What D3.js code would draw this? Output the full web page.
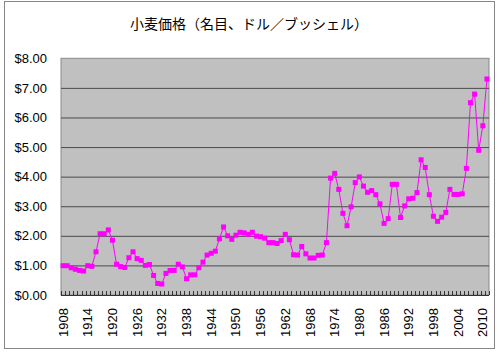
<!DOCTYPE html>
<html lang="ja">
<head>
  <meta charset="UTF-8">
  <title>小麦価格</title>
  <script src="https://d3js.org/d3.v7.min.js"></script>
  <style>
    body { margin: 0; background: #fff; }
    svg { display: block; }
    .tick-label { font-family: "Liberation Sans", Arial, sans-serif; font-size: 13px; fill: #000; }
    .title { font-family: "Noto Sans CJK JP", sans-serif; font-size: 14px; fill: #000; }
  </style>
</head>
<body>
  <svg id="chart" width="500" height="353"></svg>
  <script>
    // years 1908-2011, one price per year (nominal $/bushel)
    const years = d3.range(1908, 2012);
    const prices = [
      0.99, 0.99, 0.92, 0.87, 0.83, 0.81, 0.99, 0.97, 1.46, 2.07,   // 1908-1917
      2.07, 2.20, 1.85, 1.04, 0.96, 0.93, 1.26, 1.46, 1.23, 1.17,   // 1918-1927
      1.00, 1.03, 0.66, 0.39, 0.37, 0.73, 0.83, 0.83, 1.04, 0.95,   // 1928-1937
      0.55, 0.68, 0.68, 0.92, 1.11, 1.35, 1.41, 1.48, 1.90, 2.30,   // 1938-1947
      2.00, 1.88, 2.02, 2.12, 2.10, 2.05, 2.12, 1.99, 1.97, 1.92,   // 1948-1957
      1.77, 1.77, 1.74, 1.84, 2.05, 1.87, 1.36, 1.35, 1.64, 1.39,   // 1958-1967
      1.25, 1.25, 1.34, 1.35, 1.77, 3.95, 4.11, 3.57, 2.76, 2.34,   // 1968-1977
      2.98, 3.80, 3.99, 3.68, 3.47, 3.53, 3.39, 3.08, 2.42, 2.58,   // 1978-1987
      3.74, 3.74, 2.62, 3.01, 3.25, 3.27, 3.46, 4.57, 4.31, 3.39,   // 1988-1997
      2.66, 2.49, 2.63, 2.79, 3.57, 3.40, 3.40, 3.42, 4.28, 6.50,   // 1998-2007
      6.79, 4.89, 5.72, 7.30                                        // 2008-2011
    ];
    const labelYears = years.filter((d, i) => i % 6 === 0);
    const yTicks = d3.range(0, 9);
    const title = "小麦価格（名目、ドル／ブッシェル）";

    const data = years.map((y, i) => ({ year: y, price: prices[i] }));

    const plot = { left: 61, right: 489, top: 58.3, bottom: 295 };
    const svg = d3.select("#chart");

    // chart border
    svg.append("rect")
      .attr("x", 4.5).attr("y", 1.5)
      .attr("width", 490).attr("height", 347)
      .attr("fill", "#fff")
      .attr("stroke", "#868686");

    svg.append("text")
      .attr("class", "title")
      .attr("x", 249).attr("y", 29)
      .attr("text-anchor", "middle")
      .text(title);

    const x = d3.scaleBand()
      .domain(years)
      .range([plot.left, plot.right])
      .paddingInner(0).paddingOuter(0);

    const y = d3.scaleLinear()
      .domain([0, 8])
      .range([plot.bottom, plot.top]);

    // plot area
    svg.append("rect")
      .attr("x", plot.left).attr("y", plot.top)
      .attr("width", plot.right - plot.left)
      .attr("height", plot.bottom - plot.top)
      .attr("fill", "#c0c0c0")
      .attr("stroke", "#8a8a8a");

    // gridlines + y labels
    const yAxis = svg.append("g")
      .attr("transform", `translate(${plot.left},0)`)
      .call(d3.axisLeft(y)
        .tickValues(yTicks)
        .tickSize(-(plot.right - plot.left))
        .tickPadding(14)
        .tickFormat(d => "$" + d3.format(".2f")(d)));
    yAxis.select(".domain").remove();
    yAxis.selectAll(".tick line")
      .attr("stroke", d => d === 0 || d === 8 ? "none" : "#4a4a4a");
    yAxis.selectAll(".tick text")
      .attr("class", "tick-label")
      .attr("font-family", null).attr("font-size", null);

    // x axis line
    svg.append("line")
      .attr("x1", plot.left).attr("x2", plot.right)
      .attr("y1", plot.bottom + 0.5).attr("y2", plot.bottom + 0.5)
      .attr("stroke", "#333");

    // inside tick marks at category boundaries
    svg.append("g").selectAll("line")
      .data(years.concat([years[years.length - 1] + 1]))
      .join("line")
      .attr("x1", d => Math.round(d > years[years.length - 1] ? plot.right : x(d)) + 0.5)
      .attr("x2", d => Math.round(d > years[years.length - 1] ? plot.right : x(d)) + 0.5)
      .attr("y1", plot.bottom)
      .attr("y2", plot.bottom - 4)
      .attr("stroke", "#333");

    // x labels
    const xAxis = svg.append("g")
      .attr("transform", `translate(0,${plot.bottom})`)
      .call(d3.axisBottom(x).tickValues(labelYears).tickSize(0));
    xAxis.select(".domain").remove();
    xAxis.selectAll(".tick text")
      .attr("class", "tick-label")
      .attr("font-family", null).attr("font-size", null)
      .attr("text-anchor", "end")
      .attr("dy", "0.35em")
      .attr("y", 0)
      .attr("transform", "translate(0,13) rotate(-90)");

    const cx = d => x(d.year) + x.bandwidth() / 2;

    svg.append("path")
      .datum(data)
      .attr("fill", "none")
      .attr("stroke", "#ff00ff")
      .attr("stroke-width", 1)
      .attr("d", d3.line().x(cx).y(d => y(d.price)));

    svg.append("g").selectAll("rect")
      .data(data)
      .join("rect")
      .attr("x", d => cx(d) - 2.5)
      .attr("y", d => y(d.price) - 2.5)
      .attr("width", 5).attr("height", 5)
      .attr("fill", "#ff00ff");
  </script>
</body>
</html>
